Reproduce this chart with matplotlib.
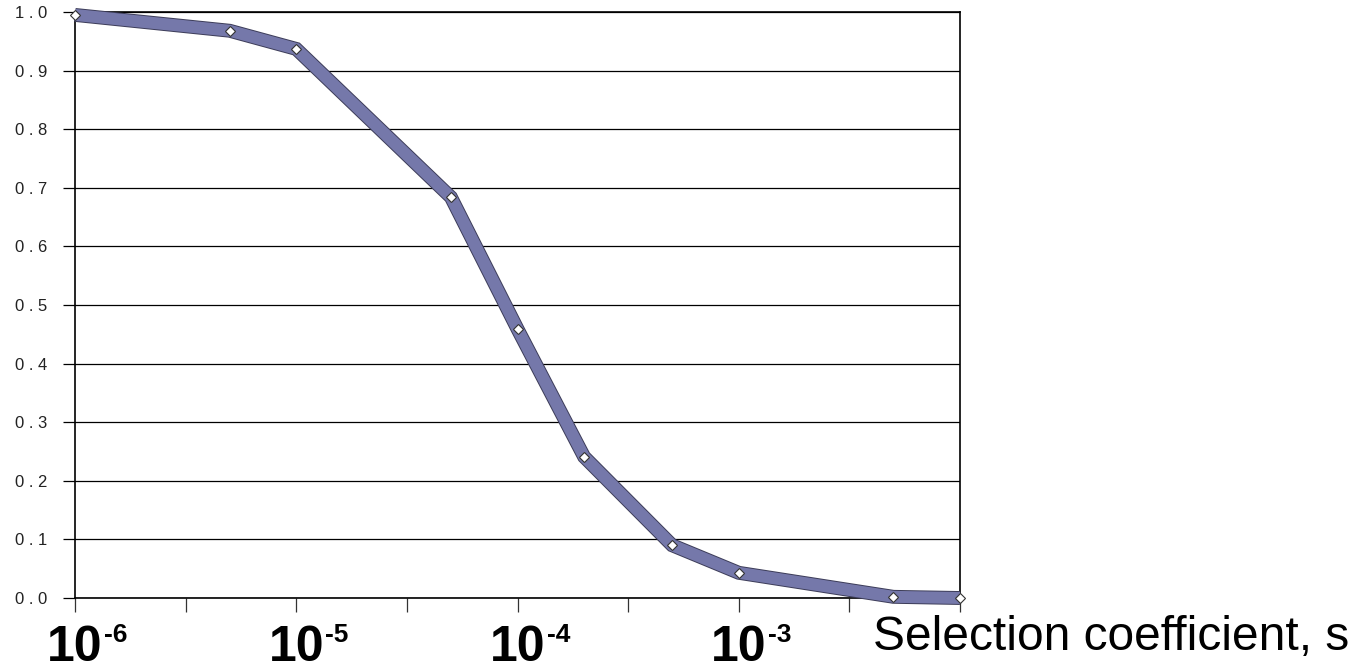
import numpy as np
import matplotlib.pyplot as plt
import matplotlib.patheffects as pe
from matplotlib.transforms import blended_transform_factory

# fixation probability against selection coefficient
s = [1e-6, 5e-6, 1e-5, 5e-5, 1e-4, 2e-4, 5e-4, 1e-3, 5e-3, 1e-2]
p = [0.995, 0.968, 0.937, 0.684, 0.459, 0.241, 0.090, 0.043, 0.002, 0.000]
decades = [-6, -5, -4, -3]
y_ticks = np.round(np.arange(0, 1.01, 0.1), 1)

plt.rcParams['font.family'] = ['Liberation Sans', 'DejaVu Sans']

fig = plt.figure(figsize=(13.69, 6.70), dpi=100)
ax = fig.add_axes([75/1369, 72/670, 885/1369, 586/670])

ax.set_xscale('log')
ax.set_xlim(1e-6, 1e-2)
ax.set_ylim(0, 1.0)

ax.set_yticks(y_ticks)
ax.set_yticklabels([f"{v:.1f}".replace('.', ' . ') for v in y_ticks],
                   fontsize=12, color='#222222')
ax.yaxis.grid(True, color='black', lw=0.9)
ax.set_axisbelow(True)

ax.set_xticks(10 ** np.arange(-6, -1.99, 0.5))
ax.set_xticklabels([])
ax.xaxis.set_minor_locator(plt.NullLocator())
ax.tick_params(axis='x', direction='out', length=10, width=0.9, color='#333333')
ax.tick_params(axis='y', direction='out', length=9, width=0.9, pad=11)

for sp in ax.spines.values():
    sp.set_linewidth(1.2)
    sp.set_color('black')

ax.plot(s, p, color='#7578aa', lw=8.6, solid_joinstyle='miter',
        solid_capstyle='butt', clip_on=False, zorder=3,
        path_effects=[pe.Stroke(linewidth=10, foreground='#3c3c58'), pe.Normal()])
ax.plot(s, p, 'D', ms=5, mfc='white', mec='#333333', mew=0.8,
        clip_on=False, zorder=4)

# big decade labels under the axis
tr = blended_transform_factory(ax.transData, fig.transFigure)
for d in decades:
    ax.text(10.0 ** d, 9/670, '10', transform=tr, ha='center', va='baseline',
            fontsize=36, fontweight='bold')
    ax.annotate(f'-{-d}', xy=(10.0 ** d, 9/670), xycoords=tr,
                xytext=(21, 13.5), textcoords='offset points',
                ha='left', va='baseline', fontsize=19, fontweight='bold')

fig.text(873/1369, 33/670, 'Selection coefficient, s', ha='left',
         va='center', fontsize=34.5)

fig.savefig('out.png', dpi=100)
